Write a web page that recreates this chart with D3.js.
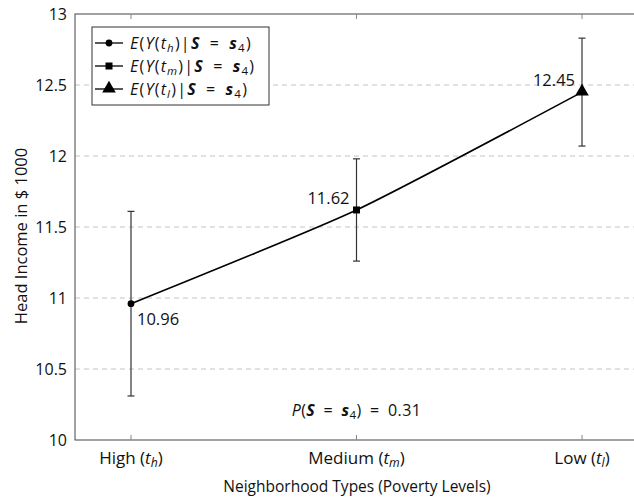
<!DOCTYPE html>
<html>
<head>
<meta charset="utf-8">
<script src="https://cdn.jsdelivr.net/npm/d3@7"></script>
<style>
  body { margin: 0; background: #fff; }
  text { font-family: "Open Sans", "DejaVu Sans", sans-serif; fill: #111; }
</style>
</head>
<body>
<svg id="chart" width="634" height="498"></svg>
<script>
// data
const categories = ["High", "Medium", "Low"];
const catSub = ["h", "m", "l"];
const means = [10.96, 11.62, 12.45];
const upper = [11.61, 11.98, 12.83];
const lower = [10.31, 11.26, 12.07];
const yTicks = [10, 10.5, 11, 11.5, 12, 12.5, 13];
const gridTicks = [10.5, 11, 11.5, 12, 12.5];
const markers = ["circle", "square", "triangle"];

const svg = d3.select("svg#chart");

const frame = { left: 75, right: 639, top: 14, bottom: 440 };

const x = d3.scaleLinear().domain([0, 2]).range([131, 582]);
const y = d3.scaleLinear().domain([10, 13]).range([frame.bottom, frame.top]);

// append a mini "math" string made of segments to a text element
// seg: [string, flags] flags: i = italic, b = bold, s = subscript
function mathText(sel, segs, size) {
  let shift = 0;
  segs.forEach(function(seg) {
    const flags = seg[1] || "";
    const t = sel.append("tspan").text(seg[0]);
    if (flags.includes("i")) t.style("font-style", "italic");
    if (flags.includes("b")) t.style("font-weight", "bold");
    if (flags.includes("s")) {
      t.attr("dy", size * 0.2 - shift).style("font-size", (size * 0.72) + "px");
      shift = size * 0.2;
    } else if (shift) {
      t.attr("dy", -shift);
      shift = 0;
    }
  });
}

// grid
svg.append("g").selectAll("line")
  .data(gridTicks)
  .enter()
  .append("line")
  .attr("x1", frame.left).attr("x2", frame.right)
  .attr("y1", d => y(d)).attr("y2", d => y(d))
  .attr("stroke", "#c4c4c4")
  .attr("stroke-dasharray", "5,4");

// frame
svg.append("rect")
  .attr("x", frame.left).attr("y", frame.top)
  .attr("width", frame.right - frame.left)
  .attr("height", frame.bottom - frame.top)
  .attr("fill", "none")
  .attr("stroke", "#444")
  .attr("stroke-width", 1);

// x ticks (inside, top and bottom)
const xt = svg.append("g");
[0, 1, 2].forEach(function(i) {
  xt.append("line").attr("x1", x(i)).attr("x2", x(i))
    .attr("y1", frame.bottom).attr("y2", frame.bottom - 5)
    .attr("stroke", "#888");
  xt.append("line").attr("x1", x(i)).attr("x2", x(i))
    .attr("y1", frame.top).attr("y2", frame.top + 5)
    .attr("stroke", "#888");
});

// y tick labels
svg.append("g").selectAll("text")
  .data(yTicks)
  .enter()
  .append("text")
  .attr("x", frame.left - 8)
  .attr("y", d => y(d) + 6)
  .attr("text-anchor", "end")
  .style("font-size", "16px")
  .text(d => d);

// x tick labels
categories.forEach(function(c, i) {
  const t = svg.append("text")
    .attr("x", x(i)).attr("y", frame.bottom + 24)
    .attr("text-anchor", "middle")
    .style("font-size", "17px");
  mathText(t, [[c + " ("], ["t", "i"], [catSub[i], "is"], [")"]], 17);
});

// axis titles
svg.append("text")
  .attr("x", (frame.left + frame.right) / 2).attr("y", 492)
  .attr("text-anchor", "middle")
  .style("font-size", "15.5px")
  .text("Neighborhood Types (Poverty Levels)");

svg.append("text")
  .attr("transform", "translate(27,236) rotate(-90)")
  .attr("text-anchor", "middle")
  .style("font-size", "16.5px")
  .text("Head Income in $ 1000");

// error bars
const eb = svg.append("g").attr("stroke", "#333").attr("stroke-width", 1.2);
means.forEach(function(m, i) {
  eb.append("line").attr("x1", x(i)).attr("x2", x(i))
    .attr("y1", y(lower[i])).attr("y2", y(upper[i]));
  [lower[i], upper[i]].forEach(function(v) {
    eb.append("line").attr("x1", x(i) - 3.5).attr("x2", x(i) + 3.5)
      .attr("y1", y(v)).attr("y2", y(v));
  });
});

// smooth line
const line = d3.line()
  .x((d, i) => x(i))
  .y(d => y(d))
  .curve(d3.curveCardinal.tension(0.45));

svg.append("path")
  .datum(means)
  .attr("d", line)
  .attr("fill", "none")
  .attr("stroke", "#000")
  .attr("stroke-width", 1.6);

function drawMarker(g, type, cx, cy) {
  if (type === "circle") {
    g.append("circle").attr("cx", cx).attr("cy", cy).attr("r", 3.4).attr("fill", "#000");
  } else if (type === "square") {
    g.append("rect").attr("x", cx - 3.5).attr("y", cy - 3.5)
      .attr("width", 7).attr("height", 7).attr("fill", "#000");
  } else {
    const sym = d3.symbol().type(d3.symbolTriangle).size(80);
    g.append("path").attr("d", sym())
      .attr("transform", "translate(" + cx + "," + (cy - 0.5) + ")")
      .attr("fill", "#000");
  }
}

const mk = svg.append("g");
means.forEach((m, i) => drawMarker(mk, markers[i], x(i), y(m)));

// value labels
const labelPos = [
  { dx: 6, dy: 21, anchor: "start" },
  { dx: -7, dy: -6, anchor: "end" },
  { dx: -7, dy: -6, anchor: "end" }
];
means.forEach(function(m, i) {
  svg.append("text")
    .attr("x", x(i) + labelPos[i].dx)
    .attr("y", y(m) + labelPos[i].dy)
    .attr("text-anchor", labelPos[i].anchor)
    .style("font-size", "16.5px")
    .text(m.toFixed(2));
});

// probability note
const note = svg.append("text")
  .attr("x", x(1)).attr("y", 416)
  .attr("text-anchor", "middle")
  .style("font-size", "16px")
  .style("letter-spacing", "0.4px");
mathText(note, [["P", "i"], ["("], ["S", "ib"], ["\u2002=\u2002"], ["s", "ib"], ["4", "s"], [")\u2002=\u20020.31"]], 16);

// legend
const legend = svg.append("g").attr("transform", "translate(92,27)");
legend.append("rect")
  .attr("width", 177).attr("height", 78)
  .attr("fill", "#fff")
  .attr("stroke", "#333");

categories.forEach(function(c, i) {
  const ly = 16 + i * 23;
  legend.append("line").attr("x1", 3).attr("x2", 31)
    .attr("y1", ly).attr("y2", ly)
    .attr("stroke", "#000").attr("stroke-width", 1.3);
  drawMarker(legend, markers[i], 17, ly);
  const t = legend.append("text")
    .attr("x", 38).attr("y", ly + 5.5)
    .style("font-size", "16px")
    .style("letter-spacing", "1.2px");
  mathText(t, [["E", "i"], ["("], ["Y", "i"], ["("], ["t", "i"], [catSub[i], "is"],
    [")|"], ["S", "ib"], ["\u2002=\u2002"], ["s", "ib"], ["4", "s"], [")"]], 16);
});
</script>
</body>
</html>
